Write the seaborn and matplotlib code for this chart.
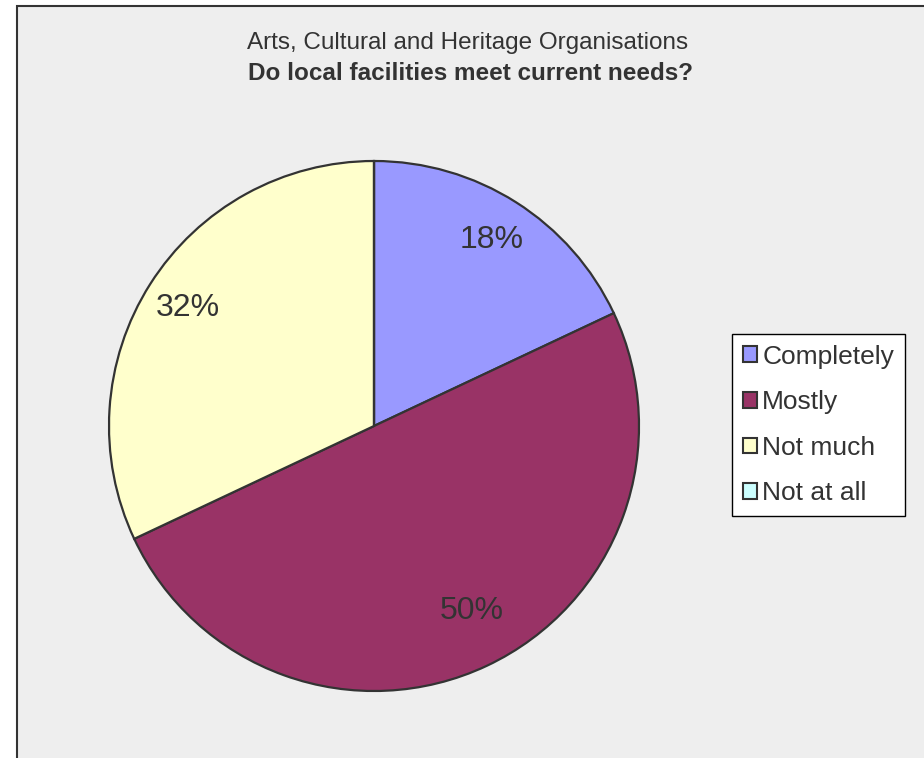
import matplotlib
matplotlib.use('Agg')
import matplotlib.pyplot as plt
import matplotlib.patches as mpatches
import seaborn as sns

categories = ['Completely', 'Mostly', 'Not much', 'Not at all']
shares = [18, 50, 32, 0]
colours = ['#9999FF', '#993366', '#FFFFCC', '#CCFFFF']
title_top = 'Arts, Cultural and Heritage Organisations'
title_bottom = 'Do local facilities meet current needs?'

sns.set_style('white')
plt.rcParams['font.family'] = ['Liberation Sans', 'DejaVu Sans']

W, H = 924, 758
fig = plt.figure(figsize=(W / 100, H / 100), dpi=100)
fig.patch.set_facecolor('white')

# grey chart area with dark border on left/top
bg = mpatches.Rectangle((17 / W, -0.02), 1.0, 1 - 6 / H + 0.02, transform=fig.transFigure,
                        facecolor='#EEEEEE', edgecolor='#333333', linewidth=1.5, zorder=-5)
fig.patches.append(bg)

# pie axes: centre (374, 426) px, radius 265 px
r = 265
cx, cy = 374, 426
ax = fig.add_axes([(cx - r) / W, (H - cy - r) / H, 2 * r / W, 2 * r / H])
ax.set_facecolor('none')

def pct(v):
    return f'{v:.0f}%' if v > 0.5 else ''

wedges, texts, autotexts = ax.pie(
    shares, colors=colours, startangle=90, counterclock=False,
    autopct=pct, pctdistance=0.83,
    wedgeprops=dict(edgecolor='#333333', linewidth=1.6),
    textprops=dict(fontsize=23, color='#333333'))
# the big slice's label sits a bit further in
x, y = autotexts[1].get_position()
autotexts[1].set_position((x * 0.96 + 0.03, y * 0.93))
ax.set_xlim(-1, 1)
ax.set_ylim(-1, 1)
ax.set_aspect('equal')
ax.axis('off')

fig.text(468 / W, 1 - 43 / H, title_top, ha='center', va='center',
         fontsize=17.5, color='#333333')
fig.text(470 / W, 1 - 74 / H, title_bottom, ha='center', va='center',
         fontsize=17.5, fontweight='bold', color='#333333')

handles = [mpatches.Rectangle((0, 0), 1, 1, facecolor=c, edgecolor='#333333', linewidth=1.5)
           for c in colours]
leg = fig.legend(handles, categories, loc='upper left',
                 bbox_to_anchor=(732 / W, 1 - 334 / H), bbox_transform=fig.transFigure,
                 fontsize=19, frameon=True, fancybox=False, framealpha=1,
                 edgecolor='black', facecolor='white',
                 handlelength=0.55, handleheight=0.55, handletextpad=0.2,
                 labelspacing=0.82, borderpad=0.4, borderaxespad=0)
leg.get_frame().set_linewidth(1.0)
for t in leg.get_texts():
    t.set_color('#333333')

fig.savefig('out.png', dpi=100, facecolor=fig.get_facecolor())
